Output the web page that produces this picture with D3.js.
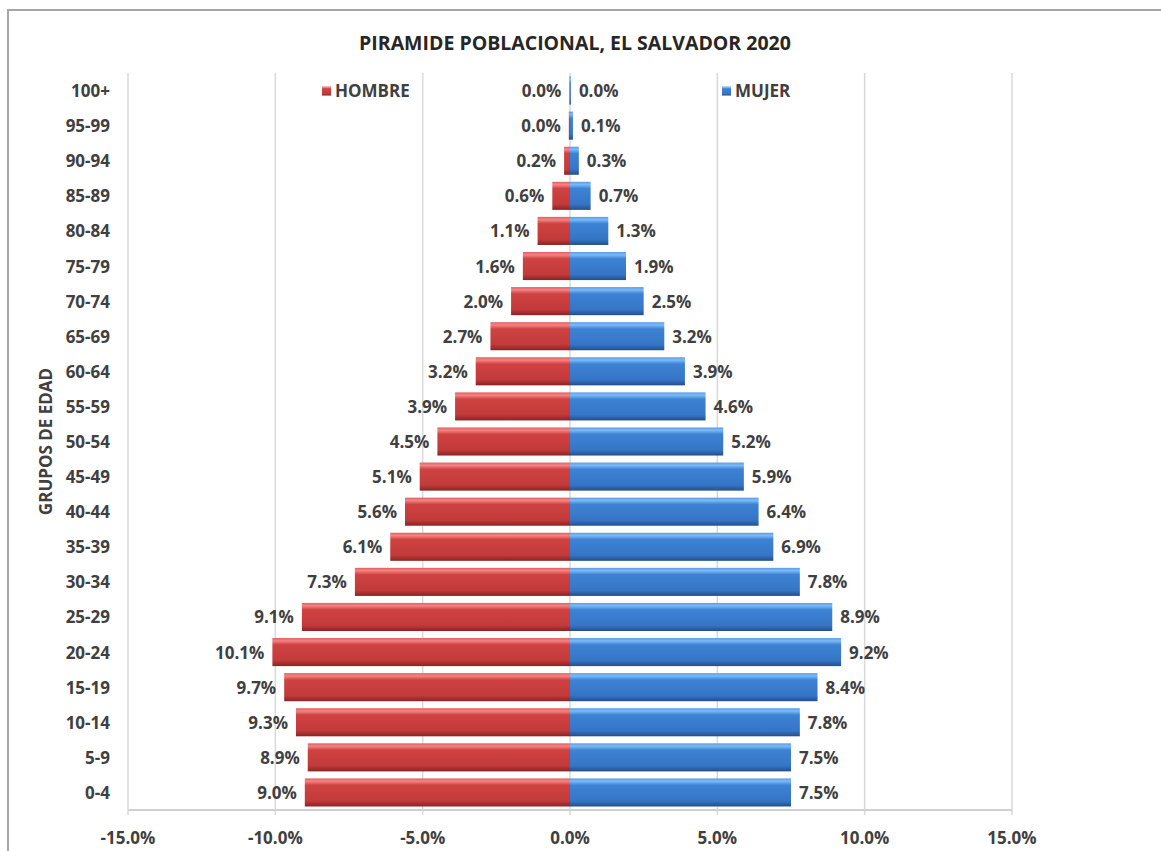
<!DOCTYPE html>
<html>
<head>
<meta charset="utf-8">
<script src="https://cdn.jsdelivr.net/npm/d3@7"></script>
<style>
  body { margin: 0; background: #fff; }
  text { font-family: "Open Sans", "DejaVu Sans", sans-serif; font-weight: bold; fill: #404040; }
</style>
</head>
<body>
<div id="chart"></div>
<script>
// age groups, top to bottom
var groups = ['100+','95-99','90-94','85-89','80-84','75-79','70-74','65-69','60-64','55-59',
  '50-54','45-49','40-44','35-39','30-34','25-29','20-24','15-19','10-14','5-9','0-4'];
// percent of population
var hombre = [0.02, 0.04, 0.2, 0.6, 1.1, 1.6, 2.0, 2.7, 3.2, 3.9,
  4.5, 5.1, 5.6, 6.1, 7.3, 9.1, 10.1, 9.7, 9.3, 8.9, 9.0];
var mujer = [0.03, 0.1, 0.3, 0.7, 1.3, 1.9, 2.5, 3.2, 3.9, 4.6,
  5.2, 5.9, 6.4, 6.9, 7.8, 8.9, 9.2, 8.4, 7.8, 7.5, 7.5];
var xTicks = [-15, -10, -5, 0, 5, 10, 15];

var W = 1161, H = 851;
var plot = { left: 128, right: 1012, top: 73, bottom: 810 };
var fs = '17px';

var svg = d3.select('#chart').append('svg')
  .attr('width', W)
  .attr('height', H);

// gradients (3d-ish bars)
var defs = svg.append('defs');
function grad(id, stops){
  var g = defs.append('linearGradient').attr('id', id)
    .attr('x1', 0).attr('y1', 0).attr('x2', 0).attr('y2', 1);
  stops.forEach(function(s){
    g.append('stop').attr('offset', s[0]).attr('stop-color', s[1]);
  });
}
grad('gRed', [[0,'#e35e5e'],[0.1,'#f58484'],[0.24,'#cf4242'],[0.8,'#c23a3a'],[1,'#8a2323']]);
grad('gBlue', [[0,'#5a9de6'],[0.1,'#7cbaf6'],[0.24,'#3d82d4'],[0.8,'#3675c6'],[1,'#234f8b']]);

// outer border
svg.append('rect')
  .attr('x', 8).attr('y', 10)
  .attr('width', W + 20).attr('height', H + 20)
  .attr('fill', 'none')
  .attr('stroke', '#a6a6a6')
  .attr('stroke-width', 2);

var x = d3.scaleLinear().domain([-15, 15]).range([plot.left, plot.right]);
var y = d3.scaleBand().domain(groups).range([plot.top, plot.bottom]).paddingInner(0.2).paddingOuter(0.1);

// gridlines
svg.append('g').selectAll('line')
  .data(xTicks)
  .enter().append('line')
  .attr('x1', function(d){ return x(d); })
  .attr('x2', function(d){ return x(d); })
  .attr('y1', plot.top)
  .attr('y2', plot.bottom + 5)
  .attr('stroke', '#d9d9d9')
  .attr('stroke-width', 1.5);

// axis line
svg.append('line')
  .attr('x1', plot.left).attr('x2', plot.right)
  .attr('y1', plot.bottom).attr('y2', plot.bottom)
  .attr('stroke', '#d0d0d0').attr('stroke-width', 2);

// x axis labels
svg.append('g').selectAll('text')
  .data(xTicks)
  .enter().append('text')
  .attr('x', function(d){ return x(d); })
  .attr('y', 837)
  .attr('text-anchor', 'middle')
  .attr('dominant-baseline', 'central')
  .style('font-size', fs)
  .text(function(d){ return d.toFixed(1) + '%'; });

// y axis labels
svg.append('g').selectAll('text')
  .data(groups)
  .enter().append('text')
  .attr('x', 110)
  .attr('y', function(d){ return y(d) + y.bandwidth()/2; })
  .attr('text-anchor', 'end')
  .attr('dominant-baseline', 'central')
  .style('font-size', fs)
  .text(function(d){ return d; });

// bars
var rows = groups.map(function(g, i){ return { g: g, h: hombre[i], m: mujer[i] }; });

svg.append('g').selectAll('rect')
  .data(rows)
  .enter().append('rect')
  .attr('x', function(d){ return x(-d.h); })
  .attr('y', function(d){ return y(d.g); })
  .attr('width', function(d){ return x(0) - x(-d.h); })
  .attr('height', y.bandwidth())
  .attr('fill', 'url(#gRed)');

svg.append('g').selectAll('rect')
  .data(rows)
  .enter().append('rect')
  .attr('x', x(0))
  .attr('y', function(d){ return y(d.g); })
  .attr('width', function(d){ return x(d.m) - x(0); })
  .attr('height', y.bandwidth())
  .attr('fill', 'url(#gBlue)');

// value labels
svg.append('g').selectAll('text')
  .data(rows)
  .enter().append('text')
  .attr('x', function(d){ return x(-d.h) - 8; })
  .attr('y', function(d){ return y(d.g) + y.bandwidth()/2; })
  .attr('text-anchor', 'end')
  .attr('dominant-baseline', 'central')
  .style('font-size', fs)
  .text(function(d){ return d.h.toFixed(1) + '%'; });

svg.append('g').selectAll('text')
  .data(rows)
  .enter().append('text')
  .attr('x', function(d){ return x(d.m) + 8; })
  .attr('y', function(d){ return y(d.g) + y.bandwidth()/2; })
  .attr('text-anchor', 'start')
  .attr('dominant-baseline', 'central')
  .style('font-size', fs)
  .text(function(d){ return d.m.toFixed(1) + '%'; });

// legend
var legend = [
  { name: 'HOMBRE', fill: 'url(#gRed)', x: 322 },
  { name: 'MUJER', fill: 'url(#gBlue)', x: 722 }
];
var lg = svg.append('g').selectAll('g')
  .data(legend)
  .enter().append('g')
  .attr('transform', function(d){ return 'translate(' + d.x + ',' + (y(groups[0]) + y.bandwidth()/2) + ')'; });
lg.append('rect')
  .attr('x', 0).attr('y', -4)
  .attr('width', 9).attr('height', 9)
  .attr('fill', function(d){ return d.fill; });
lg.append('text')
  .attr('x', 13)
  .attr('dominant-baseline', 'central')
  .style('font-size', fs)
  .text(function(d){ return d.name; });

// title
svg.append('text')
  .attr('x', 575)
  .attr('y', 42)
  .attr('text-anchor', 'middle')
  .attr('dominant-baseline', 'central')
  .style('font-size', '19.5px')
  .style('fill', '#262626')
  .text('PIRAMIDE POBLACIONAL, EL SALVADOR 2020');

// y axis title
svg.append('text')
  .attr('transform', 'translate(45,' + ((plot.top + plot.bottom)/2) + ') rotate(-90)')
  .attr('text-anchor', 'middle')
  .attr('dominant-baseline', 'central')
  .style('font-size', fs)
  .text('GRUPOS DE EDAD');
</script>
</body>
</html>
